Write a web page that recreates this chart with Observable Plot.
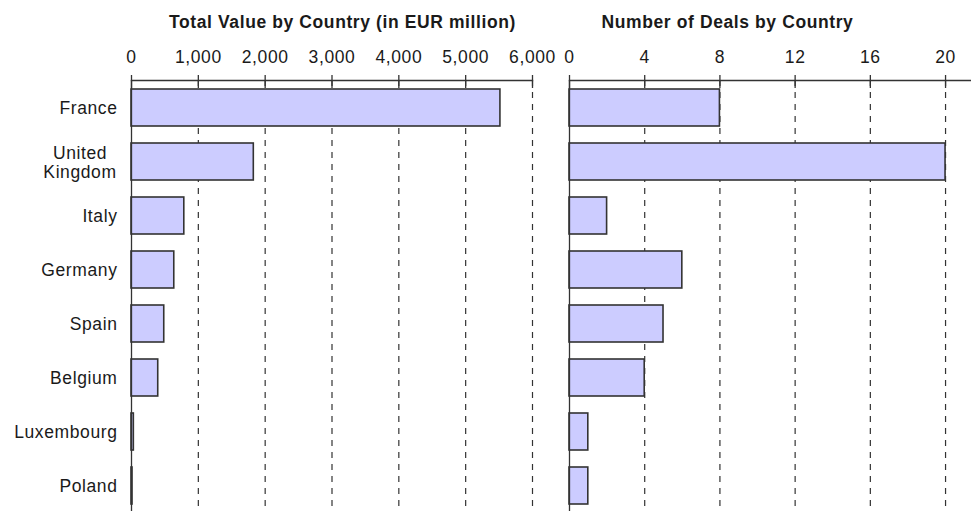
<!DOCTYPE html>
<html>
<head>
<meta charset="utf-8">
<script src="https://cdn.jsdelivr.net/npm/d3@7"></script>
<script src="https://cdn.jsdelivr.net/npm/@observablehq/plot@0.6"></script>
<style>
  html, body { margin: 0; padding: 0; background: #fff; overflow: hidden; }
  #wrap { position: relative; width: 971px; height: 511px; overflow: hidden; font-family: "Liberation Sans", Arial, sans-serif; }
  .panel { position: absolute; top: 0; }
  .title { position: absolute; top: 12px; width: 420px; text-align: center; font-weight: bold; font-size: 17.5px; line-height: 20px; letter-spacing: 0.6px; color: #1a1a1a; white-space: nowrap; }
</style>
</head>
<body>
<div id="wrap"></div>
<script>
// ---- data ----
const countries = ["France", "United Kingdom", "Italy", "Germany", "Spain", "Belgium", "Luxembourg", "Poland"];
const totalValue = [5520, 1830, 790, 640, 490, 400, 35, 15];   // EUR million
const dealCount = [8, 20, 2, 6, 5, 4, 1, 1];
const valueTicks = [0, 1000, 2000, 3000, 4000, 5000, 6000];
const dealTicks = [0, 4, 8, 12, 16, 20];
const titleLeft = "Total Value by Country (in EUR million)";
const titleRight = "Number of Deals by Country";

const valueRows = countries.map((c, i) => ({country: c, value: totalValue[i]}));
const dealRows = countries.map((c, i) => ({country: c, value: dealCount[i]}));

const ink = "#333";
const fontStyle = {fontFamily: "'Liberation Sans', Arial, sans-serif", fontSize: "17.5px", letterSpacing: "0.6px", color: "#1a1a1a", background: "transparent", overflow: "visible"};
const yScale = {domain: countries, paddingInner: 0.32, paddingOuter: 0.14, axis: null, label: null};

function panel(rows, ticks, domain, opts) {
  const marks = [
    Plot.gridX(ticks.filter(t => t !== 0), {stroke: ink, strokeOpacity: 1, strokeWidth: 1.2, strokeDasharray: "6,6"}),
    Plot.barX(rows, {x: "value", y: "country", fill: "#ccccff", stroke: ink, strokeWidth: 1.6}),
    Plot.ruleX([0], {stroke: ink, strokeWidth: 1.3}),
    Plot.frame({anchor: "top", stroke: ink, strokeWidth: 1.3}),
    Plot.axisX({anchor: "top", ticks, tickSize: 13, dy: 7, tickFormat: () => "", label: null, stroke: ink, strokeWidth: 1.3}),
    Plot.axisX({anchor: "top", ticks, tickSize: 0, tickPadding: 18, tickFormat: d3.format(","), label: null, fill: "#1a1a1a"})
  ];
  if (opts.yLabels) {
    marks.push(
      Plot.axisY({ticks: countries.filter(c => c !== "United Kingdom"), tickSize: 0, tickPadding: 14, label: null, fill: "#1a1a1a"}),
      Plot.axisY({ticks: ["United Kingdom"], tickSize: 0, tickPadding: 51.5, textAnchor: "middle", lineHeight: 1.1, tickFormat: () => "United\nKingdom", label: null, fill: "#1a1a1a"})
    );
  }
  return Plot.plot({
    width: opts.width,
    height: 513,
    marginTop: 80,
    marginBottom: 0,
    marginLeft: opts.marginLeft,
    marginRight: opts.marginRight,
    style: fontStyle,
    x: {domain, axis: null, label: null},
    y: yScale,
    marks
  });
}

const wrap = document.getElementById("wrap");

const left = panel(valueRows, valueTicks, [0, 6000], {width: 556, marginLeft: 131, marginRight: 24, yLabels: true});
left.classList.add("panel");
left.style.left = "0px";
wrap.appendChild(left);

const right = panel(dealRows, dealTicks, [0, 21.38], {width: 415, marginLeft: 13, marginRight: 0, yLabels: false});
right.classList.add("panel");
right.style.left = "556px";
wrap.appendChild(right);

const t1 = document.createElement("div");
t1.className = "title";
t1.textContent = titleLeft;
t1.style.left = (342.5 - 210) + "px";
wrap.appendChild(t1);

const t2 = document.createElement("div");
t2.className = "title";
t2.textContent = titleRight;
t2.style.left = (727.5 - 210) + "px";
wrap.appendChild(t2);
</script>
</body>
</html>
